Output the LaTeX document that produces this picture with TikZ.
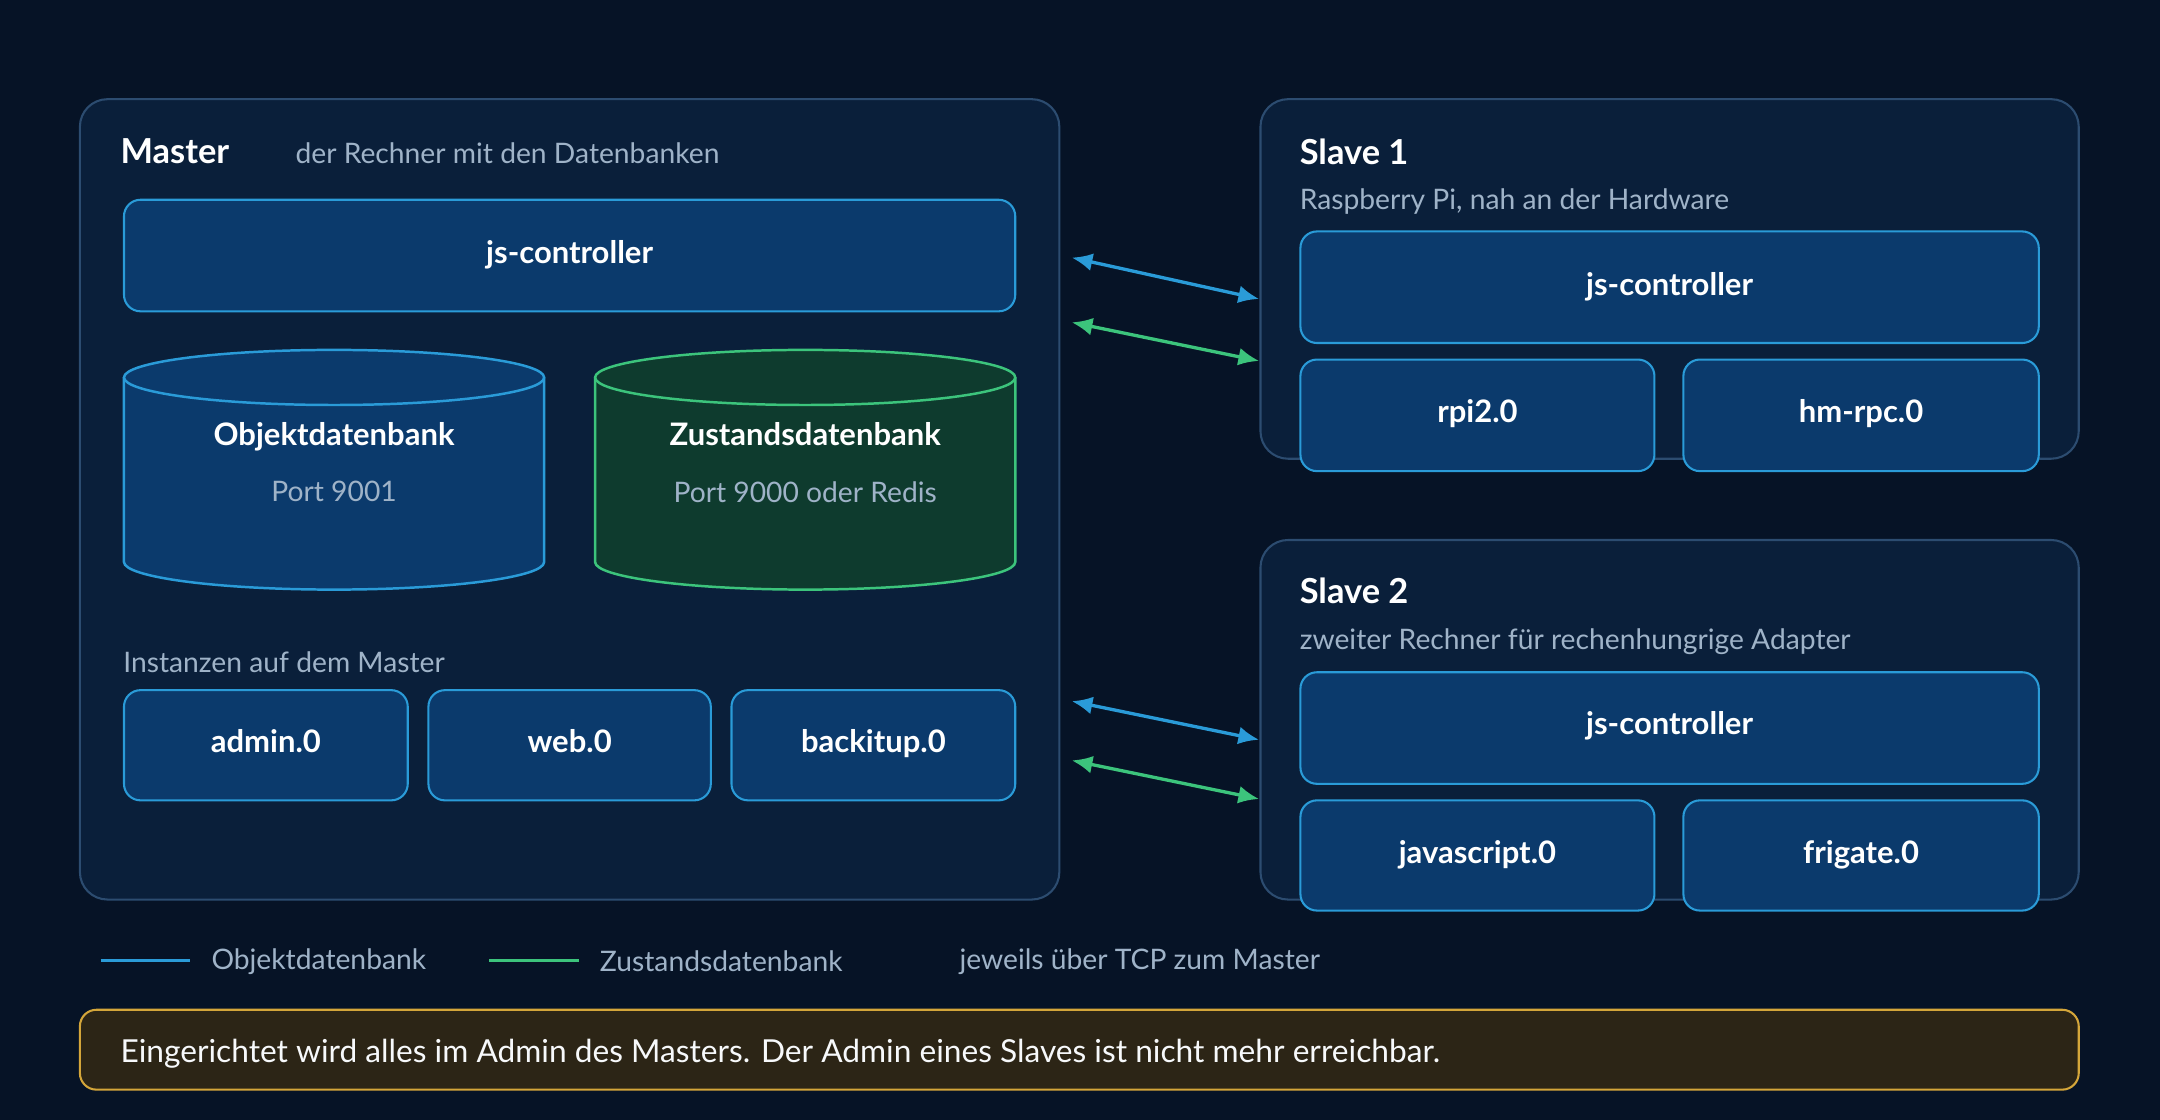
\documentclass[tikz,border=0pt]{standalone}
\usepackage{fontspec}
\setmainfont{Lato}
\usetikzlibrary{arrows.meta}
\definecolor{bg}{HTML}{061326}
\definecolor{panel}{HTML}{0A1F3A}
\definecolor{panelb}{HTML}{2C4C70}
\definecolor{boxf}{HTML}{0B3A6C}
\definecolor{boxb}{HTML}{2A9BD8}
\definecolor{grf}{HTML}{0E3B2E}
\definecolor{grb}{HTML}{3CC47C}
\definecolor{sub}{HTML}{9FB3C8}
\definecolor{notef}{HTML}{2C2516}
\definecolor{noteb}{HTML}{D4A63A}
\tikzset{
 panel/.style={draw=panelb,fill=panel,line width=1.5pt,rounded corners=20pt},
 box/.style={draw=boxb,fill=boxf,line width=1.5pt,rounded corners=12pt},
 lbl/.style={text=white,font=\fontsize{22.5}{26}\selectfont\bfseries,text height=16pt,text depth=5pt},
 ttl/.style={text=white,font=\fontsize{25}{29}\selectfont\bfseries,anchor=west},
 sub/.style={text=sub,font=\fontsize{20.5}{24}\selectfont,anchor=west},
 blu/.style={draw=boxb,line width=2.4pt,{Latex[length=15pt,width=13pt]}-{Latex[length=15pt,width=13pt]}},
 grn/.style={draw=grb,line width=2.4pt,{Latex[length=15pt,width=13pt]}-{Latex[length=15pt,width=13pt]}},
}
\begin{document}
\begin{tikzpicture}[x=1pt,y=-1pt]
\fill[bg] (0,0) rectangle (1568,813);
\useasboundingbox (0,0) rectangle (1568,813);
% Master
\draw[panel] (58,72) rectangle (769,653);
\node[ttl] (mt) at (84,110) {Master};
\node[sub] (ms) at (211,111) {der Rechner mit den Datenbanken};
\draw[box] (90,145) rectangle (737,226);
\node[lbl] (mjs) at (413.5,186) {js-controller};
% cylinders
\foreach \x/\f/\b/\n in {90/boxf/boxb/a,432/grf/grb/b}{
 \draw[fill=\f,draw=\b,line width=1.8pt] (\x,274) -- (\x,408) arc[start angle=180,end angle=0,x radius=152.5,y radius=20] -- (\x+305,274);
 \draw[fill=\f,draw=\b,line width=1.8pt] (\x+152.5,274) ellipse[x radius=152.5,y radius=20];
}
\node[lbl] (od) at (242.5,318) {Objektdatenbank};
\node[text=sub,font=\fontsize{20.5}{24}\selectfont] (op) at (242.5,357) {Port 9001};
\node[lbl] (zd) at (584.5,318) {Zustandsdatenbank};
\node[text=sub,font=\fontsize{20.5}{24}\selectfont] (zp) at (584.5,357) {Port 9000 oder Redis};
\node[sub] (inst) at (86,481) {Instanzen auf dem Master};
\draw[box] (90,501) rectangle (296,581); \node[lbl] (ad) at (193,541) {admin.0};
\draw[box] (311,501) rectangle (516,581); \node[lbl] (we) at (413.5,541) {web.0};
\draw[box] (531,501) rectangle (737,581); \node[lbl] (bk) at (634,541) {backitup.0};
% Slave 1
\draw[panel] (915,72) rectangle (1509,333);
\node[ttl] (s1) at (940,110) {Slave 1};
\node[sub] (s1s) at (940,146) {Raspberry Pi, nah an der Hardware};
\draw[box] (944,168) rectangle (1480,249); \node[lbl] (s1j) at (1212,209) {js-controller};
\draw[box] (944,261) rectangle (1201,342); \node[lbl] (rp) at (1072.5,301) {rpi2.0};
\draw[box] (1222,261) rectangle (1480,342); \node[lbl] (hm) at (1351,301) {hm-rpc.0};
% Slave 2
\draw[panel] (915,392) rectangle (1509,653);
\node[ttl] (s2) at (940,429) {Slave 2};
\node[sub] (s2s) at (940,466) {zweiter Rechner für rechenhungrige Adapter};
\draw[box] (944,488) rectangle (1480,569); \node[lbl] (s2j) at (1212,528) {js-controller};
\draw[box] (944,581) rectangle (1201,661); \node[lbl] (js) at (1072.5,621) {javascript.0};
\draw[box] (1222,581) rectangle (1480,661); \node[lbl] (fr) at (1351,621) {frigate.0};
% arrows
\coordinate (a1) at (778,187); \coordinate (b1) at (914,217);
\coordinate (a2) at (778,234); \coordinate (b2) at (914,262);
\coordinate (a3) at (778,509); \coordinate (b3) at (914,537);
\coordinate (a4) at (778,552); \coordinate (b4) at (914,580);
\draw[blu] (a1) -- (b1); \draw[grn] (a2) -- (b2);
\draw[blu] (a3) -- (b3); \draw[grn] (a4) -- (b4);
% legend
\coordinate (l1) at (73,697); \coordinate (l2) at (138,697);
\coordinate (l3) at (355,697); \coordinate (l4) at (420,697);
\draw[boxb,line width=2.2pt] (l1) -- (l2);
\draw[grb,line width=2.2pt] (l3) -- (l4);
\node[sub] (lt1) at (150,698) {Objektdatenbank};
\node[sub] (lt2) at (432,698) {Zustandsdatenbank};
\node[sub] (lt3) at (693,698) {jeweils über TCP zum Master};
% note
\draw[draw=noteb,fill=notef,line width=1.5pt,rounded corners=12pt] (58,733) rectangle (1509,791);
\node[anchor=west,text=white!92!sub,font=\fontsize{23}{26}\selectfont] (nt) at (84,765) {Eingerichtet wird alles im Admin des Masters. Der Admin eines Slaves ist nicht mehr erreichbar.};
\end{tikzpicture}
\end{document}
